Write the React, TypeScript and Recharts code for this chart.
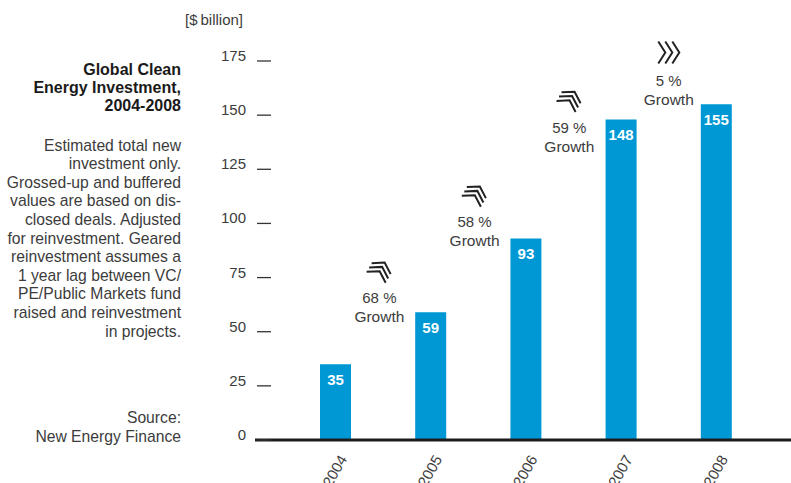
import React from 'react';
import { BarChart, Bar, XAxis, YAxis, LabelList, ReferenceDot } from 'recharts';

const years = ['2004', '2005', '2006', '2007', '2008'];
const investment = [35, 59, 93, 148, 155];
const yTicks = [0, 25, 50, 75, 100, 125, 150, 175];
const growthLabels = ['68 %', '58 %', '59 %', '5 %'];
// horizontal position of each growth note, in category-index units (between bars)
const growthX = [0.46, 1.46, 2.455, 3.5];
const growthLevel = [65.6, 100.7, 144.5, 166];
const growthAngle = [-60, -60, -60, 0];

const data = years.map((y, i) => ({ pos: i, year: y, value: investment[i] }));
const xTicks = years.map((_, i) => i);

const FONT = '"Liberation Sans", Arial, Helvetica, sans-serif';
const TXT = '#3c3c3c';

const Chevrons = ({ cx, cy, angle, spacing }: any) => {
  const a = 7;
  const b = 11;
  const items = [-1, 0, 1].map((k) => {
    const ox = k * spacing + a / 2;
    return (
      <polyline
        key={k}
        points={`${ox - a},${-b} ${ox},0 ${ox - a},${b}`}
        fill="none"
        stroke="#222"
        strokeWidth={2}
        strokeLinejoin="miter"
      />
    );
  });
  return <g transform={`translate(${cx},${cy}) rotate(${angle})`}>{items}</g>;
};

const GrowthMark = (props: any) => {
  const { cx, cy, idx } = props;
  const ang = growthAngle[idx];
  return (
    <g>
      <Chevrons cx={cx + (ang === 0 ? 0 : 1)} cy={cy - 28} angle={ang} spacing={ang === 0 ? 7 : 5} />
      <text x={cx} y={cy} textAnchor="middle" dominantBaseline="central" fontSize={15} fill={TXT} fontFamily={FONT}>
        {growthLabels[idx]}
      </text>
      <text x={cx} y={cy + 19} textAnchor="middle" dominantBaseline="central" fontSize={15.5} fill={TXT} fontFamily={FONT}>
        Growth
      </text>
    </g>
  );
};

const YTick = (props: any) => {
  const { x, y, payload } = props;
  return (
    <g>
      <text x={x - 9} y={y} textAnchor="end" fontSize={15} fill={TXT} fontFamily={FONT}>
        {payload.value}
      </text>
      <line x1={x + 2} x2={x + 16} y1={y} y2={y} stroke="#333" strokeWidth={1.3} />
    </g>
  );
};

const XTick = (props: any) => {
  const { x, y, payload } = props;
  const tx = x + 12;
  const ty = y + 19;
  return (
    <text
      x={tx}
      y={ty}
      textAnchor="end"
      fontSize={15}
      fill={TXT}
      fontFamily={FONT}
      transform={`rotate(-60, ${tx}, ${ty})`}
    >
      {years[payload.value]}
    </text>
  );
};

const ValueLabel = (props: any) => {
  const { x, y, width, value } = props;
  return (
    <text
      x={x + width / 2}
      y={y + 15}
      textAnchor="middle"
      dominantBaseline="central"
      fill="#fff"
      fontWeight="bold"
      fontSize={15}
      fontFamily={FONT}
    >
      {value}
    </text>
  );
};

export default function App() {
  return (
    <div style={{ position: 'absolute', left: 0, top: 0, width: 791, height: 483, background: '#fff', fontFamily: FONT }}>
      <div style={{ position: 'absolute', left: 0, top: 0 }}>
        <BarChart width={791} height={483} data={data} margin={{ top: 61, right: 0, bottom: 0, left: 185 }}>
          <XAxis
            dataKey="pos"
            type="number"
            domain={[-0.5, 4.5]}
            ticks={xTicks}
            padding={{ left: 33, right: 27 }}
            axisLine={{ stroke: '#1c1c1c', strokeWidth: 3 }}
            tickLine={false}
            tickSize={0}
            tickMargin={0}
            tick={<XTick />}
            height={43}
            interval={0}
          />
          <YAxis
            width={70}
            domain={[0, 175]}
            ticks={yTicks}
            axisLine={false}
            tickLine={false}
            tickSize={0}
            tickMargin={0}
            tick={<YTick />}
            interval={0}
          />
          <Bar dataKey="value" fill="#0098D4" barSize={31} isAnimationActive={false}>
            <LabelList dataKey="value" content={<ValueLabel />} />
          </Bar>
          {growthLabels.map((g, i) => (
            <ReferenceDot
              key={g}
              x={growthX[i]}
              y={growthLevel[i]}
              r={1}
              shape={(p: any) => <GrowthMark {...p} idx={i} />}
            />
          ))}
        </BarChart>
      </div>
      <div style={{ position: 'absolute', left: 185, top: 10, fontSize: 15, color: TXT, lineHeight: '20px', whiteSpace: 'nowrap' }}>
        [$&thinsp;billion]
      </div>
      <div style={{ position: 'absolute', left: 0, width: 181, top: 61, textAlign: 'right', fontSize: 16, fontWeight: 'bold', color: '#1a1a1a', lineHeight: '18px' }}>
        Global Clean<br />Energy Investment,<br />2004-2008
      </div>
      <div style={{ position: 'absolute', left: 0, width: 181, top: 136.7, textAlign: 'right', fontSize: 15.7, color: TXT, lineHeight: '18.6px' }}>
        Estimated total new<br />investment only.<br />Grossed-up and buffered<br />values are based on dis-<br />closed deals. Adjusted<br />for reinvestment. Geared<br />reinvestment assumes a<br />1 year lag between VC/<br />PE/Public Markets fund<br />raised and reinvestment<br />in projects.
      </div>
      <div style={{ position: 'absolute', left: 0, width: 181, top: 407.5, textAlign: 'right', fontSize: 15.7, color: TXT, lineHeight: '19px' }}>
        Source:<br />New Energy Finance
      </div>
    </div>
  );
}
